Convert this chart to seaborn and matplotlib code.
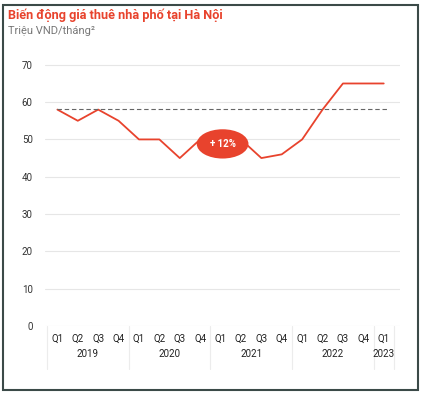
import matplotlib
matplotlib.use("Agg")
import matplotlib.pyplot as plt
import matplotlib.transforms as mtrans
from matplotlib.patches import Rectangle
import seaborn as sns
import pandas as pd

quarters = ["Q1", "Q2", "Q3", "Q4"] * 4 + ["Q1"]
years = ["2019", "2020", "2021", "2022", "2023"]
year_sizes = [4, 4, 4, 4, 1]
prices = [58, 55, 58, 55, 50, 50, 45, 50, 50, 50, 45, 46, 50, 58, 65, 65, 65]
average = 58.2
badge_text = "+ 12%"
yticks = [0, 10, 20, 30, 40, 50, 60, 70]

RED = "#e8432d"
sns.set_theme(style="white")
plt.rcParams["font.family"] = ["Roboto", "DejaVu Sans"]

fig = plt.figure(figsize=(4.22, 3.96), dpi=100)
ax = fig.add_axes([0.107, 0.177, 0.841, 0.664])

df = pd.DataFrame({"idx": range(len(prices)), "price": prices})
sns.lineplot(data=df, x="idx", y="price", ax=ax, color=RED, linewidth=1.3)

ax.hlines(average, 0, len(prices) - 0.8, colors="#666666", linestyles=(0, (4, 2.5)), linewidth=0.8)

ax.set_xlim(-0.6, len(prices) - 0.2)
ax.set_ylim(0, 70.5)
ax.set_yticks(yticks)
ax.set_yticklabels([str(v) for v in yticks], fontsize=7, color="#333333")
ax.yaxis.grid(True, color="#e6e6e6", linewidth=0.8)
ax.tick_params(axis="y", length=0, pad=9)
ax.set_xticks(range(len(prices)))
ax.set_xticklabels(quarters, fontsize=7, color="#222222")
ax.tick_params(axis="x", length=0, pad=6)
ax.set_xlabel("")
ax.set_ylabel("")
for s in ax.spines.values():
    s.set_visible(False)

trans = mtrans.blended_transform_factory(ax.transData, ax.transAxes)
# category axis separators
start = -0.5
bounds = [start]
for n in year_sizes:
    bounds.append(bounds[-1] + n)
for b in bounds:
    ax.plot([b, b], [0, -0.165], transform=trans, color="#ececec", linewidth=0.8, clip_on=False)
for i, y in enumerate(years):
    c = (bounds[i] + bounds[i + 1]) / 2
    ax.text(c, -0.105, y, transform=trans, ha="center", va="center", fontsize=7, color="#222222")

# badge
ax.text(8.1, 48.8, badge_text, ha="center", va="center", fontsize=7, fontweight="bold",
        color="white", bbox=dict(boxstyle="ellipse,pad=0.55", fc=RED, ec="none"), zorder=5)

fig.text(0.019, 0.962, "Biến động giá thuê nhà phố tại Hà Nội", fontsize=9.2, fontweight="bold",
         color=RED, ha="left", va="center")
fig.text(0.019, 0.922, "Triệu VND/tháng²", fontsize=8, color="#777777", ha="left", va="center")

fig.patches.append(Rectangle((0.008, 0.015), 0.982, 0.972, transform=fig.transFigure,
                             fill=False, ec="#3b4a48", lw=1.5))

fig.savefig("out.png", dpi=100)
